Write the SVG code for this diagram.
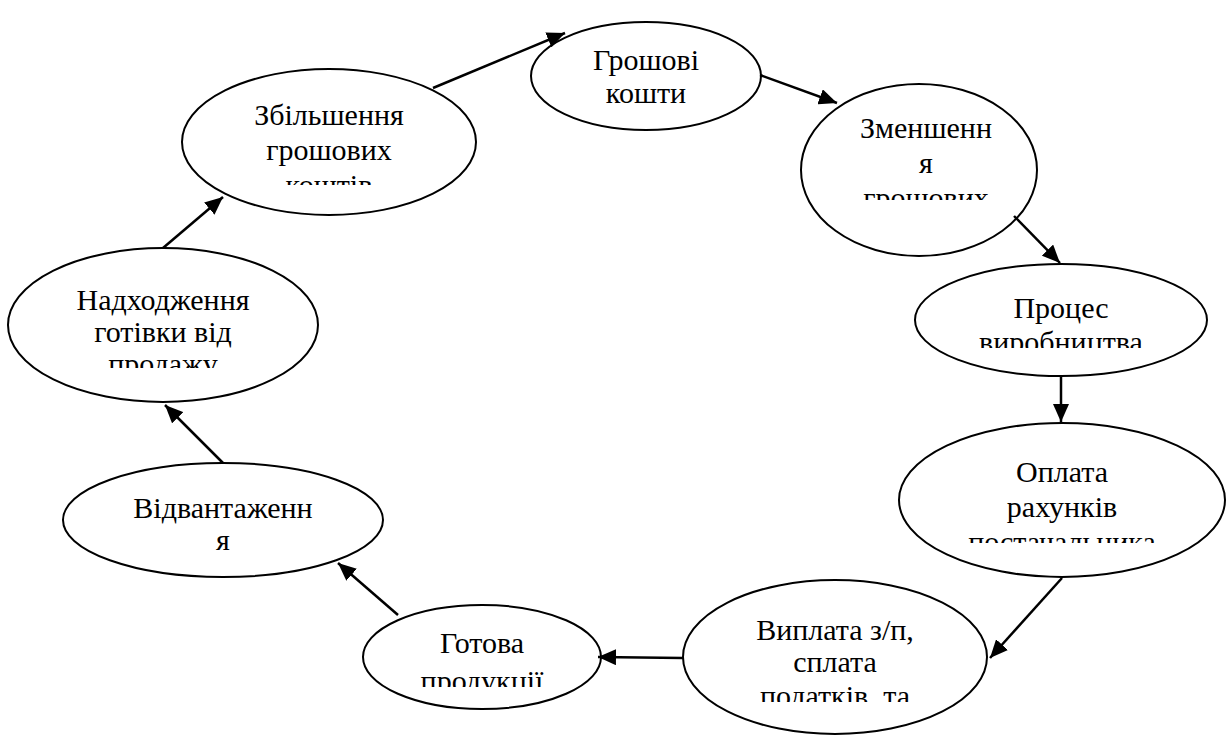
<svg xmlns="http://www.w3.org/2000/svg" width="1230" height="736" viewBox="0 0 1230 736">
<style>
.n ellipse{fill:#fff;stroke:#000;stroke-width:2}
.n text{font-size:30px;fill:#000;text-anchor:middle}
.c line{stroke:#000;stroke-width:2.5}
</style>
<defs>
<marker id="ah" markerUnits="userSpaceOnUse" markerWidth="20" markerHeight="16" refX="18" refY="8" orient="auto">
<path d="M0,0 L18,8 L0,16 Z" fill="#000"/>
</marker>
<clipPath id="c2"><rect x="0" y="0" width="1230" height="185"/></clipPath>
<clipPath id="c3"><rect x="0" y="0" width="1230" height="200"/></clipPath>
<clipPath id="c4"><rect x="0" y="0" width="1230" height="348"/></clipPath>
<clipPath id="c5"><rect x="0" y="0" width="1230" height="543"/></clipPath>
<clipPath id="c6"><rect x="0" y="0" width="1230" height="702"/></clipPath>
<clipPath id="c7"><rect x="0" y="0" width="1230" height="687"/></clipPath>
<clipPath id="c9"><rect x="0" y="0" width="1230" height="368"/></clipPath>
</defs>
<rect width="1230" height="736" fill="#fff"/>
<g font-family="'Liberation Serif', 'Times New Roman', 'DejaVu Serif', serif">
<g id="n1" class="n"><ellipse cx="646" cy="76" rx="115" ry="54"/>
<text x="646" y="70">Грошові</text><text x="646" y="103">кошти</text></g>
<g id="n2" class="n"><ellipse cx="329" cy="142" rx="147" ry="73"/>
<g clip-path="url(#c2)"><text x="329" y="125">Збільшення</text><text x="329" y="160">грошових</text><text x="329" y="195">коштів</text></g></g>
<g id="n3" class="n"><ellipse cx="919" cy="170" rx="118" ry="86"/>
<g clip-path="url(#c3)"><text x="926" y="138">Зменшенн</text><text x="926" y="173">я</text><text x="926" y="208">грошових</text></g></g>
<g id="n4" class="n"><ellipse cx="1061" cy="320" rx="146" ry="56"/>
<g clip-path="url(#c4)"><text x="1061" y="318">Процес</text><text x="1061" y="352">виробництва</text></g></g>
<g id="n5" class="n"><ellipse cx="1062" cy="500" rx="163" ry="77"/>
<g clip-path="url(#c5)"><text x="1062" y="482">Оплата</text><text x="1062" y="517">рахунків</text><text x="1062" y="552">постачальника</text></g></g>
<g id="n6" class="n"><ellipse cx="835" cy="657" rx="152" ry="77"/>
<g clip-path="url(#c6)"><text x="835" y="640">Виплата з/п,</text><text x="835" y="672">сплата</text><text x="835" y="706">податків, та</text></g></g>
<g id="n7" class="n"><ellipse cx="482" cy="657" rx="119" ry="52"/>
<g clip-path="url(#c7)"><text x="482" y="653">Готова</text><text x="482" y="691">продукції</text></g></g>
<g id="n8" class="n"><ellipse cx="223" cy="520" rx="160" ry="57"/>
<text x="223" y="518">Відвантаженн</text><text x="223" y="550">я</text></g>
<g id="n9" class="n"><ellipse cx="163" cy="325" rx="155" ry="77"/>
<g clip-path="url(#c9)"><text x="163" y="310">Надходження</text><text x="163" y="342">готівки від</text><text x="163" y="374">продажу</text></g></g>
</g>
<g id="connectors" class="c">
<line x1="433" y1="88" x2="565" y2="33" marker-end="url(#ah)"/>
<line x1="760" y1="75" x2="837" y2="103" marker-end="url(#ah)"/>
<line x1="1014" y1="216" x2="1060" y2="263" marker-end="url(#ah)"/>
<line x1="1061" y1="377" x2="1061" y2="422" marker-end="url(#ah)"/>
<line x1="1062" y1="578" x2="990" y2="658" marker-end="url(#ah)"/>
<line x1="683" y1="658" x2="598" y2="657" marker-end="url(#ah)"/>
<line x1="398" y1="615" x2="338" y2="563" marker-end="url(#ah)"/>
<line x1="223" y1="463" x2="165" y2="405" marker-end="url(#ah)"/>
<line x1="163" y1="248" x2="223" y2="197" marker-end="url(#ah)"/>
</g>
</svg>
